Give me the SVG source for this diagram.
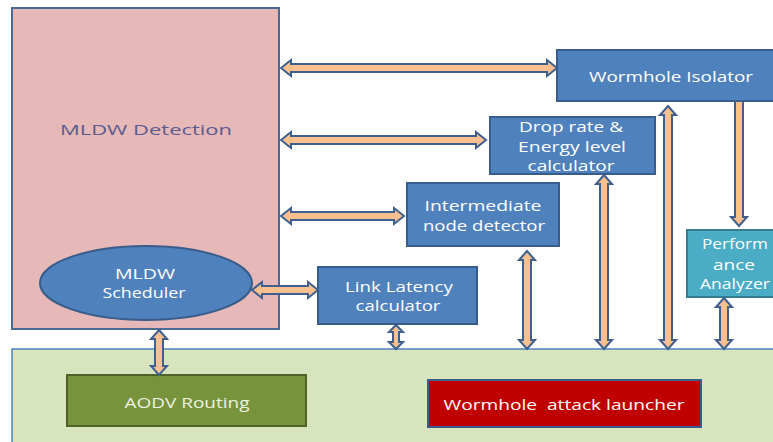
<svg xmlns="http://www.w3.org/2000/svg" width="773" height="442" viewBox="0 0 773 442">
<style>
.blue{fill:#4f81bd;stroke:#385d8a;stroke-width:2}
.arr{fill:#fac08f;stroke:#3f5f8f;stroke-width:2;stroke-linejoin:miter}
text{font-family:"Open Sans","Liberation Sans",sans-serif;font-size:15px;text-anchor:middle}
.w{fill:#ffffff}
</style>
<rect width="773" height="442" fill="#ffffff"/>
<g id="mldw-detection">
<rect x="12" y="8" width="267" height="321" fill="#e6b8b7" stroke="#4a6a96" stroke-width="2"/>
<text x="146" y="135" fill="#5b5b8f" font-size="17" textLength="172" lengthAdjust="spacingAndGlyphs">MLDW Detection</text>
</g>
<g id="bottom-layer">
<rect x="12" y="349" width="775" height="100" fill="#d7e4bd" stroke="#4f81bd" stroke-width="1.5"/>
</g>
<g id="mldw-scheduler">
<ellipse cx="146" cy="283" rx="106" ry="37" class="blue"/>
<text class="w" x="145" y="279" textLength="60" lengthAdjust="spacingAndGlyphs">MLDW</text>
<text class="w" x="144" y="298" textLength="83" lengthAdjust="spacingAndGlyphs">Scheduler</text>
</g>
<g id="wormhole-isolator">
<rect x="557" y="50" width="225" height="51" class="blue"/>
<text class="w" x="671" y="82" font-size="16" textLength="164" lengthAdjust="spacingAndGlyphs">Wormhole Isolator</text>
</g>
<g id="drop-rate">
<rect x="490" y="117" width="165" height="57" class="blue"/>
<text class="w" x="571" y="132" textLength="104" lengthAdjust="spacingAndGlyphs">Drop rate &amp;</text>
<text class="w" x="572" y="152" textLength="108" lengthAdjust="spacingAndGlyphs">Energy level</text>
<text class="w" x="571" y="171" textLength="87" lengthAdjust="spacingAndGlyphs">calculator</text>
</g>
<g id="intermediate">
<rect x="407" y="183" width="152" height="63" class="blue"/>
<text class="w" x="483" y="211" textLength="117" lengthAdjust="spacingAndGlyphs">Intermediate</text>
<text class="w" x="484" y="231" textLength="122" lengthAdjust="spacingAndGlyphs">node detector</text>
</g>
<g id="link-latency">
<rect x="318" y="267" width="159" height="57" class="blue"/>
<text class="w" x="399" y="292" font-size="14" textLength="108" lengthAdjust="spacingAndGlyphs">Link Latency</text>
<text class="w" x="398" y="311" font-size="14" textLength="85" lengthAdjust="spacingAndGlyphs">calculator</text>
</g>
<g id="performance">
<rect x="687" y="230" width="100" height="67" fill="#4bacc6" stroke="#357d91" stroke-width="2"/>
<text class="w" x="735" y="249" textLength="66" lengthAdjust="spacingAndGlyphs">Perform</text>
<text class="w" x="734" y="270" textLength="42" lengthAdjust="spacingAndGlyphs">ance</text>
<text class="w" x="735" y="289" textLength="70" lengthAdjust="spacingAndGlyphs">Analyzer</text>
</g>
<g id="aodv">
<rect x="67" y="375" width="239" height="51" fill="#77933c" stroke="#4f6228" stroke-width="2"/>
<text x="187" y="408" fill="#eef2e0" textLength="125" lengthAdjust="spacingAndGlyphs">AODV Routing</text>
</g>
<g id="wormhole-attack">
<rect x="428" y="380" width="273" height="47" fill="#c00000" stroke="#385d8a" stroke-width="2"/>
<text class="w" x="564" y="410" textLength="241" lengthAdjust="spacingAndGlyphs" xml:space="preserve">Wormhole  attack launcher</text>
</g>
<g id="connectors">
<path class="arr" d="M281,68 L291,60 L291,64 L547,64 L547,60 L557,68 L547,76 L547,72 L291,72 L291,76 Z"/>
<path class="arr" d="M281,140 L291,132 L291,136 L476,136 L476,132 L486,140 L476,148 L476,144 L291,144 L291,148 Z"/>
<path class="arr" d="M281,216 L291,208 L291,212 L394,212 L394,208 L404,216 L394,224 L394,220 L291,220 L291,224 Z"/>
<path class="arr" d="M252,290 L262,282 L262,286 L308,286 L308,282 L318,290 L308,298 L308,294 L262,294 L262,298 Z"/>
<path class="arr" d="M159,330 L167,339 L163,339 L163,366 L167,366 L159,375 L151,366 L155,366 L155,339 L151,339 Z"/>
<path class="arr" d="M396,325 L403,332 L399,332 L399,342 L403,342 L396,349 L389,342 L393,342 L393,332 L389,332 Z"/>
<path class="arr" d="M527,251 L535,260 L531,260 L531,340 L535,340 L527,349 L519,340 L523,340 L523,260 L519,260 Z"/>
<path class="arr" d="M604,175 L612,184 L608,184 L608,340 L612,340 L604,349 L596,340 L600,340 L600,184 L596,184 Z"/>
<path class="arr" d="M668,106 L676,115 L672,115 L672,340 L676,340 L668,349 L660,340 L664,340 L664,115 L660,115 Z"/>
<path class="arr" d="M735,101 L743,101 L743,217 L747,217 L739,226 L731,217 L735,217 Z"/>
<path class="arr" d="M724,298 L732,307 L728,307 L728,340 L732,340 L724,349 L716,340 L720,340 L720,307 L716,307 Z"/>
</g>
</svg>
